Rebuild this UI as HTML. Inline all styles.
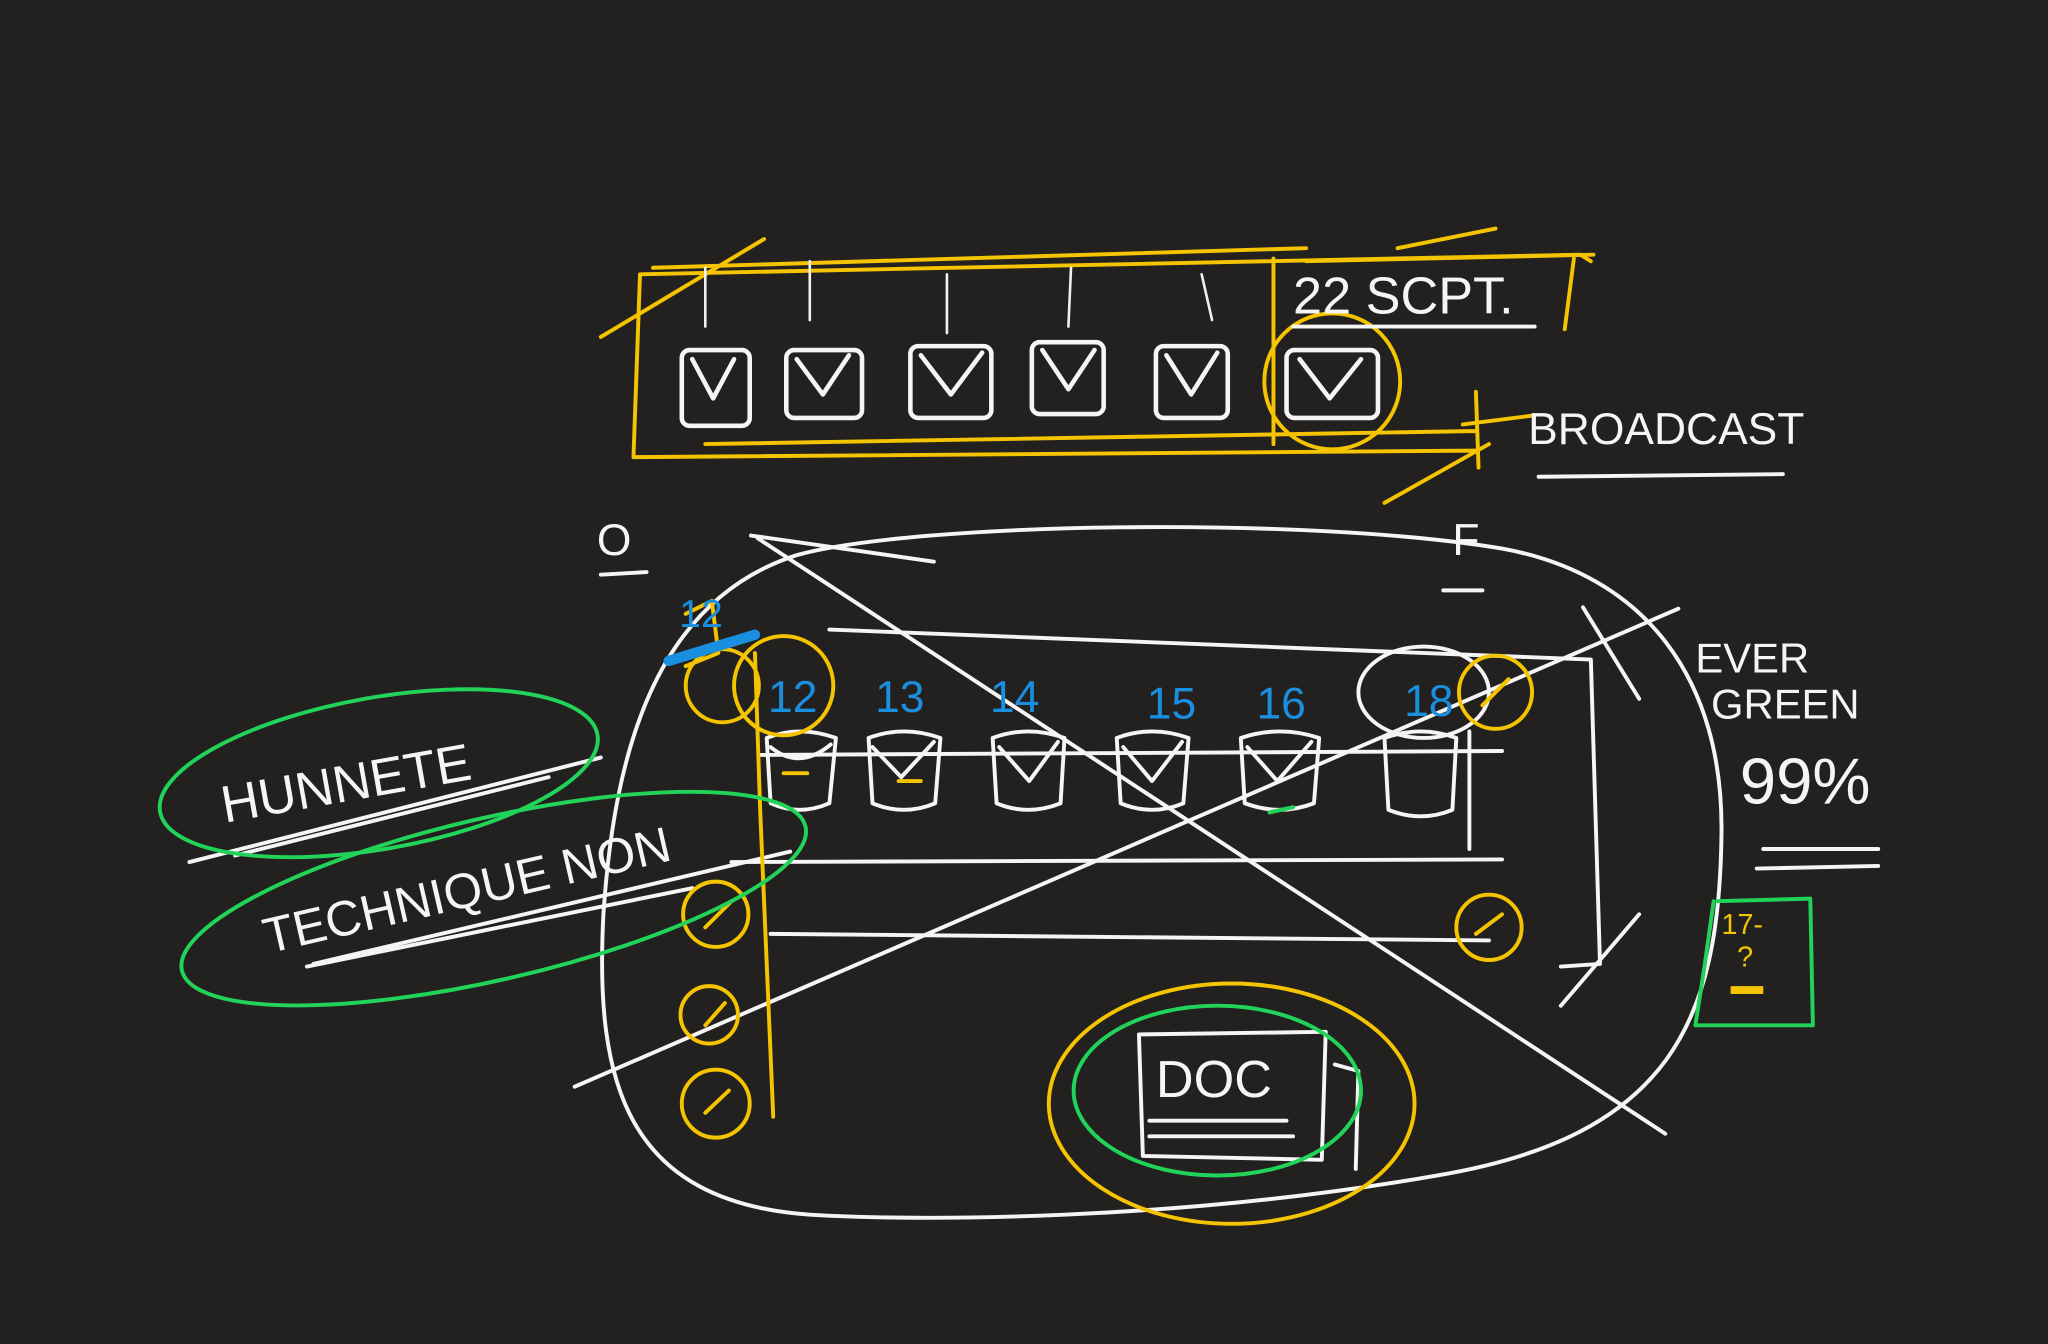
<!DOCTYPE html>
<html><head><meta charset="utf-8"><style>
html,body{margin:0;padding:0;background:#222120;}
svg{display:block;}
text{font-family:"Liberation Sans",sans-serif;}
</style></head><body>
<svg width="2048" height="1344" viewBox="0 0 1568 1029" xmlns="http://www.w3.org/2000/svg">
<rect width="1568" height="1029" fill="#222120"/>
<g fill="none" stroke-linecap="round" stroke-linejoin="round">
<g stroke="#f5c400" stroke-width="3">
<path d="M490 210 L1210 195 L1218 200 M1205 198 L1198 252 M485 350 L1130 345 M490 210 L485 350 M975 198 L975 340"/>
<path d="M500 205 L1000 190 M540 340 L1130 330 M1060 385 L1140 340 M460 258 L585 183 M1000 200 L1220 195 M1070 190 L1145 175 M1130 300 L1132 358"/>
<circle cx="1020" cy="292" r="52"/>
<path d="M1120 325 L1175 318"/>
</g>
<g stroke="#f0f0f0" stroke-width="2">
<path d="M540 205 L540 250 M620 200 L620 245 M725 210 L725 255 M820 205 L818 250 M920 210 L928 245"/>
</g>
<g stroke="#f5f5f5" stroke-width="3.5">
<rect x="522" y="268" width="52" height="58" rx="6"/><path d="M530 275 L546 305 L562 275"/>
<rect x="602" y="268" width="58" height="52" rx="6"/><path d="M610 275 L630 302 L650 272"/>
<rect x="697" y="265" width="62" height="55" rx="6"/><path d="M705 272 L728 302 L752 270"/>
<rect x="790" y="262" width="55" height="55" rx="6"/><path d="M798 268 L818 298 L838 268"/>
<rect x="885" y="265" width="55" height="55" rx="6"/><path d="M893 272 L912 302 L932 270"/>
<rect x="985" y="268" width="70" height="52" rx="6"/><path d="M995 275 L1018 305 L1042 275"/>
</g>
<g stroke="#f5f5f5" stroke-width="3">
<path d="M610 425 C700 400 1000 395 1150 420 C1260 440 1320 520 1318 640 C1316 780 1280 870 1100 900 C900 935 700 935 620 930 C480 920 455 830 462 700 C470 580 500 460 610 425 Z"/>
<path d="M580 412 L1275 868 M440 832 L1285 466"/>
<path d="M635 482 L1218 505 L1225 738 L1195 740 M582 578 L1150 575 M560 660 L1150 658 M590 715 L1140 720 M1212 465 L1255 535 M1195 770 L1255 700"/>
<path d="M575 410 L715 430 M1125 560 L1125 650"/>
<ellipse cx="1090" cy="530" rx="50" ry="35"/>
<path d="M587 565 L590 615 Q612 625 635 615 L640 565 Q612 555 587 565 Z M590 572 Q612 590 636 570"/>
<path d="M665 565 L668 615 Q692 625 716 615 L720 565 Q692 555 665 565 Z M668 572 L690 595 L715 568"/>
<path d="M760 565 L763 615 Q787 625 812 615 L815 565 Q787 555 760 565 Z M765 572 L788 598 L810 568"/>
<path d="M855 565 L858 615 Q882 625 906 615 L910 565 Q882 555 855 565 Z M860 572 L882 598 L905 568"/>
<path d="M950 565 L953 615 Q980 625 1006 615 L1010 565 Q980 555 950 565 Z M955 572 L978 598 L1004 568"/>
<path d="M1060 565 L1063 620 Q1088 630 1112 620 L1115 565 Q1088 555 1060 565 Z"/>
<path d="M872 792 L1015 790 L1012 888 L875 885 Z M1022 815 L1040 820 L1038 895 M880 858 L985 858 M880 870 L990 870"/>
<path d="M990 250 L1175 250 M1178 365 L1365 363 M1350 650 L1438 650 M1345 665 L1438 663 M460 440 L495 438 M1105 452 L1135 452"/>
<path d="M145 660 L460 580 M180 655 L420 595 M240 738 L605 652 M235 740 L530 680"/>
</g>
<g stroke="#f5c400" stroke-width="3">
<path d="M578 500 L582 620 L592 855"/>
<circle cx="553" cy="525" r="28"/><circle cx="600" cy="525" r="38"/>
<circle cx="548" cy="700" r="25"/><circle cx="543" cy="777" r="22"/><circle cx="548" cy="845" r="26"/>
<circle cx="1140" cy="710" r="25"/><circle cx="1145" cy="530" r="28"/>
<ellipse cx="943" cy="845" rx="140" ry="92"/>
<path d="M600 592 L618 592 M688 598 L705 598 M540 710 L560 690 M540 785 L555 768 M540 852 L558 835 M1130 715 L1150 700 M1135 540 L1155 520"/>
<path d="M525 470 L545 460 L550 500 L525 510"/>
</g>
<path d="M512 506 L578 486" stroke="#1a8fe0" stroke-width="8"/>
<g stroke="#22d35a" stroke-width="3">
<ellipse cx="290" cy="592" rx="170" ry="58" transform="rotate(-10 290 592)"/>
<ellipse cx="378" cy="688" rx="245" ry="62" transform="rotate(-13 378 688)"/>
<ellipse cx="932" cy="835" rx="110" ry="65"/>
<path d="M1315 690 L1386 688 L1388 785 L1298 785 L1305 740 L1312 690"/>
<path d="M972 622 L990 618"/>
</g>
</g>
<g fill="#f5f5f5">
<text x="990" y="240" font-size="40">22 SCPT.</text>
<text x="1170" y="340" font-size="34">BROADCAST</text>
<text x="1298" y="515" font-size="32">EVER</text>
<text x="1310" y="550" font-size="32">GREEN</text>
<text x="1332" y="615" font-size="50">99%</text>
<text x="457" y="425" font-size="34">O</text>
<text x="1112" y="425" font-size="34">F</text>
<text x="172" y="630" font-size="40" transform="rotate(-10 172 630)">HUNNETE</text>
<text x="205" y="730" font-size="38" transform="rotate(-13 205 730)">TECHNIQUE NON</text>
<text x="885" y="840" font-size="40">DOC</text>
</g>
<g fill="#1a8fe0" font-size="34">
<text x="588" y="545">12</text><text x="670" y="545">13</text><text x="758" y="545">14</text>
<text x="878" y="550">15</text><text x="962" y="550">16</text><text x="1075" y="548">18</text>
<text x="520" y="480" font-size="30">12</text>
</g>
<g fill="#f5c400"><text x="1318" y="715" font-size="22">17-</text><text x="1330" y="740" font-size="22">?</text>
<rect x="1325" y="755" width="25" height="6"/></g>
</svg>
</body></html>
